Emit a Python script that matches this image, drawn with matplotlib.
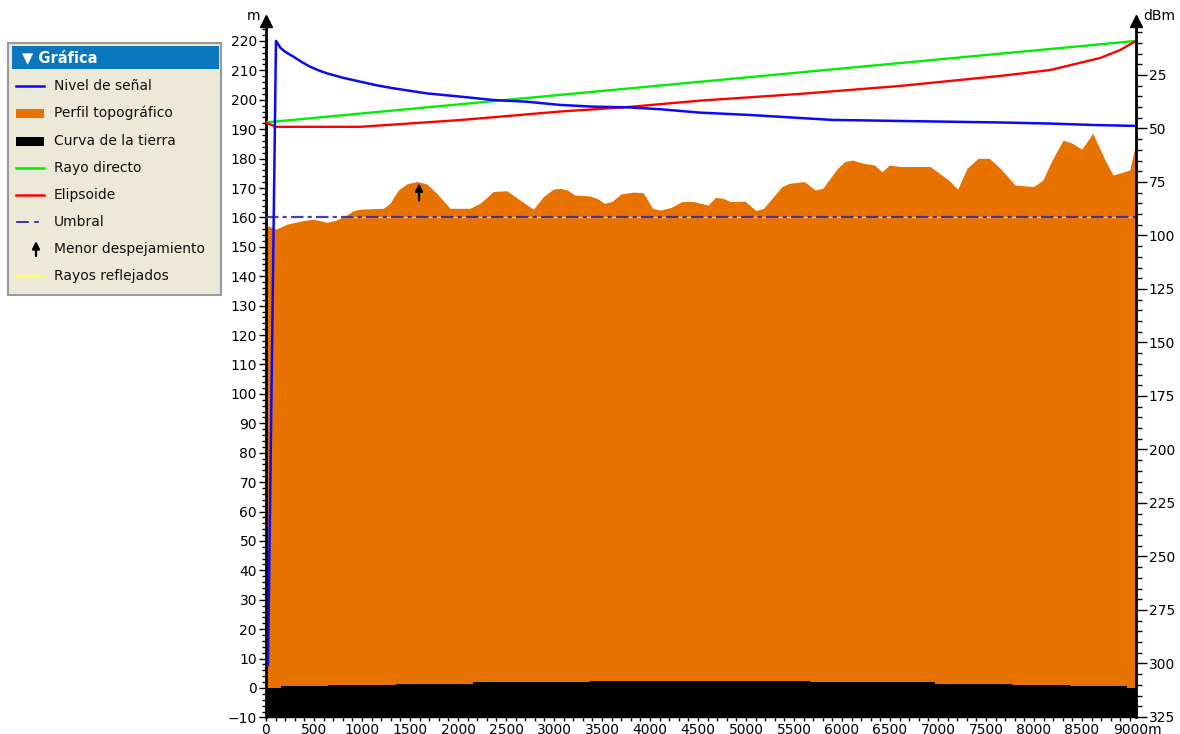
import matplotlib
matplotlib.use("Agg")
import matplotlib.pyplot as plt
from matplotlib.patches import Rectangle
from matplotlib.ticker import MultipleLocator, FixedLocator
from matplotlib import transforms

plt.rcParams["font.family"] = ["DejaVu Sans"]
plt.rcParams["lines.scale_dashes"] = False

# ---- profile data (distance in m) ----
terrain_dist = [0, 104, 216, 385, 490, 563, 632, 736, 841, 909, 979, 1222, 1292, 1378,
                1466, 1570, 1674, 1778, 1917, 2125, 2229, 2368, 2507, 2646, 2785, 2889,
                2993, 3063, 3140, 3217, 3371, 3448, 3525, 3602, 3698, 3833, 3929, 4026,
                4103, 4219, 4334, 4450, 4604, 4681, 4758, 4835, 4990, 5105, 5183, 5375,
                5452, 5606, 5722, 5799, 5953, 6030, 6107, 6223, 6339, 6416, 6493, 6608,
                6917, 6994, 7110, 7205, 7302, 7417, 7533, 7648, 7802, 7995, 8092, 8188,
                8303, 8400, 8496, 8612, 8747, 8824, 8997, 9036, 9062]
terrain_h = [157.4, 156.0, 157.7, 158.9, 159.4, 158.9, 158.3, 159.1, 160.8, 162.3, 162.8,
             163.1, 164.8, 169.3, 171.4, 172.2, 171.4, 168.2, 163.1, 163.1, 164.8, 168.8,
             169.1, 165.9, 162.8, 167.1, 169.6, 169.9, 169.3, 167.6, 167.3, 166.5, 164.8,
             165.4, 168.0, 168.6, 168.4, 163.1, 162.5, 163.4, 165.4, 165.4, 164.2, 166.8,
             166.5, 165.4, 165.5, 162.3, 163.1, 170.5, 171.6, 172.2, 169.3, 169.9, 176.7,
             179.0, 179.5, 178.4, 177.8, 175.5, 177.8, 177.3, 177.3, 175.5, 172.7, 169.6,
             176.7, 180.1, 180.1, 176.7, 171.0, 170.5, 172.7, 179.5, 186.3, 185.2, 183.2,
             188.6, 179.0, 174.4, 176.1, 181.8, 185.5]

earth_dist = [0, 156, 646, 1354, 2156, 3375, 5667, 6969, 7768, 8375, 8966, 9062]
earth_h = [0.1, 0.55, 1.0, 1.45, 1.9, 2.3, 1.9, 1.45, 1.0, 0.55, 0.1, 0.1]

direct_dist = [0, 9062]
direct_h = [192.3, 220.0]

ellipsoid_dist = [0, 104, 979, 2021, 3063, 3760, 4521, 5563, 6604, 7646, 8167, 8688, 8896, 9062]
ellipsoid_h = [192.2, 190.8, 190.8, 193.1, 196.0, 197.5, 199.7, 202.0, 204.7, 208.1,
               210.1, 214.2, 216.9, 220.0]

signal_dist = [21, 104, 150, 198, 284, 370, 458, 545, 632, 800, 979, 1150, 1323, 1674,
               2021, 2365, 2716, 3063, 3406, 3757, 4104, 4521, 5042, 5896, 6604, 7646,
               8167, 8636, 9062]
signal_dbm = [300.7, 9.1, 12.3, 14.1, 16.4, 18.9, 21.1, 22.8, 24.2, 26.3, 28.1, 29.8,
              31.2, 33.6, 35.1, 36.7, 37.5, 39.0, 39.8, 40.1, 41.0, 42.6, 43.7, 46.0,
              46.5, 47.2, 47.7, 48.4, 48.8]

threshold_h = 160
clearance_dist = 1594
clearance_h = [165.8, 171.6]

x_ticks = list(range(0, 9001, 500))
x_labels = [str(v) for v in x_ticks[:-1]] + ["9000m"]
m_ticks = list(range(-10, 221, 10))
dbm_ticks = list(range(25, 326, 25))

legend_labels = ["Nivel de señal", "Perfil topográfico", "Curva de la tierra",
                 "Rayo directo", "Elipsoide", "Umbral", "Menor despejamiento",
                 "Rayos reflejados"]

ORANGE = "#E77200"
BLUE = "#0A0AF5"
GREEN = "#00F000"
RED = "#FF0000"

W, H = 1180, 734
fig = plt.figure(figsize=(W / 100, H / 100), dpi=100)
fig.patch.set_facecolor("white")

x0, x1 = 266, 1136
ytop, ybot = 23.3, 717.4
ax = fig.add_axes([x0 / W, (H - ybot) / H, (x1 - x0) / W, (ybot - ytop) / H])
ax.set_xlim(0, 9062)
ax.set_ylim(-10, 226)

# terrain and earth curvature
ax.fill_between(terrain_dist, -10, terrain_h, color=ORANGE, lw=0, zorder=1)
ax.fill_between(earth_dist, -10, earth_h, step="post", color="black", lw=0, zorder=2)

# threshold line
ax.axhline(threshold_h, color="white", alpha=0.55, lw=1.0, zorder=3)
thr, = ax.plot([0, 9062], [threshold_h, threshold_h], color="#2a20a0", alpha=0.85,
               lw=1.6, zorder=4)
thr.set_dashes((9, 3, 3, 3))

ax.plot(direct_dist, direct_h, color=GREEN, lw=1.7, zorder=5)
ax.plot(ellipsoid_dist, ellipsoid_h, color=RED, lw=1.7, zorder=6)

ax.annotate("", xy=(clearance_dist, clearance_h[1]), xytext=(clearance_dist, clearance_h[0]),
            arrowprops=dict(arrowstyle="-|>", color="black", lw=1.6, mutation_scale=11,
                            shrinkA=0, shrinkB=0), zorder=7)

# right axis in dBm (inverted)
ax2 = ax.twinx()
ax2.set_ylim(311.45 + 1.3743 * 10, 311.45 - 1.3743 * 226)
ax2.plot(signal_dist, signal_dbm, color=BLUE, lw=1.8, zorder=8)

# spines and ticks
for a in (ax, ax2):
    a.spines["top"].set_visible(False)
    a.spines["left"].set_linewidth(2)
    a.spines["right"].set_linewidth(2)
    a.spines["bottom"].set_linewidth(1)
    a.patch.set_visible(False)
ax2.spines["left"].set_visible(False)
ax.spines["right"].set_visible(False)
ax2.spines["bottom"].set_visible(False)

ax.set_xticks(x_ticks)
ax.set_xticklabels(x_labels)
ax.xaxis.set_minor_locator(MultipleLocator(100))
ax.yaxis.set_major_locator(FixedLocator(m_ticks))
ax.yaxis.set_minor_locator(MultipleLocator(2))
ax.tick_params(axis="x", which="both", length=3, width=1, pad=1.2, labelsize=10, color="black")
ax.tick_params(axis="y", which="major", length=5, width=1, pad=1.5, labelsize=10)
ax.tick_params(axis="y", which="minor", length=3, width=1)
ax2.yaxis.set_major_locator(FixedLocator(dbm_ticks))
ax2.yaxis.set_minor_locator(MultipleLocator(5))
ax2.tick_params(axis="y", which="major", length=8, width=1, pad=1, labelsize=10)
ax2.tick_params(axis="y", which="minor", length=4, width=1)

# last distance label carries the unit; keep its number centred on the tick
last = ax.get_xticklabels()[-1]
last.set_horizontalalignment("left")
last.set_transform(last.get_transform() +
                   transforms.ScaledTranslation(-17 / 100, 0, fig.dpi_scale_trans))

# arrowheads on the vertical axes
for xa in (0, 1):
    tr = transforms.offset_copy(ax.transAxes, fig=fig, x=0, y=2, units="dots")
    ax.plot([xa], [1], marker="^", color="black", markersize=8, clip_on=False,
            transform=tr, zorder=10)

# overlay in pixel coordinates for texts and the legend panel
ov = fig.add_axes([0, 0, 1, 1])
ov.set_xlim(0, W)
ov.set_ylim(H, 0)
ov.axis("off")

ov.text(253, 16, "m", ha="center", va="center", fontsize=10)
ov.text(1159, 16, "dBm", ha="center", va="center", fontsize=10)

ov.add_patch(Rectangle((8, 43), 213, 252, facecolor="#ECE9D8", edgecolor="#9A9A9A", lw=1.5))
ov.add_patch(Rectangle((12, 46), 207, 23, facecolor="#0A76BE", edgecolor="none"))
ov.text(22, 57.5, "▼ Gráfica", color="white", fontsize=10.5, fontweight="bold",
        ha="left", va="center")

ys = [86, 113, 141, 168, 195, 222, 249, 276]
for y, lab in zip(ys, legend_labels):
    ov.text(54, y, lab, fontsize=10, ha="left", va="center", color="#111111")

ov.plot([16, 44], [ys[0], ys[0]], color=BLUE, lw=1.8)
ov.add_patch(Rectangle((16, ys[1] - 4.5), 28, 9, facecolor=ORANGE, edgecolor="none"))
ov.add_patch(Rectangle((16, ys[2] - 4.5), 28, 9, facecolor="black", edgecolor="none"))
ov.plot([16, 44], [ys[3], ys[3]], color=GREEN, lw=1.8)
ov.plot([16, 44], [ys[4], ys[4]], color=RED, lw=1.8)
ov.plot([17, 28], [ys[5], ys[5]], color="#1a1aa0", lw=1.2)
ov.plot([35, 38], [ys[5], ys[5]], color="#1a1aa0", lw=1.2)
ov.annotate("", xy=(36, ys[6] - 8), xytext=(36, ys[6] + 7),
            arrowprops=dict(arrowstyle="-|>", color="black", lw=1.6, mutation_scale=11,
                            shrinkA=0, shrinkB=0))
ov.plot([16, 44], [ys[7], ys[7]], color="#FFFF50", lw=1.8)

fig.savefig("out.png", dpi=100)
